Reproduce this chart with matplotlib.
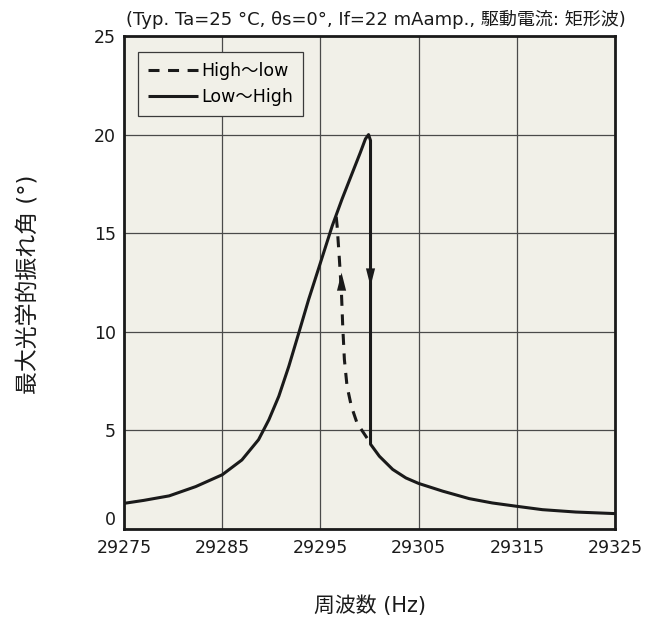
import matplotlib
matplotlib.use('Agg')
import matplotlib.pyplot as plt

plt.rcParams['font.family'] = ['DejaVu Sans', 'Noto Sans CJK JP']

# Low -> High sweep: rising side up to the peak, then the jump down
up_f = [29275, 29277, 29279.6, 29282.3, 29285, 29287.0, 29288.7, 29289.75, 29290.76,
        29291.78, 29292.8, 29293.8, 29295, 29296.2, 29297.2, 29298.2, 29299.07,
        29299.58, 29299.9, 29300.1]
up_a = [1.3, 1.45, 1.68, 2.15, 2.75, 3.5, 4.53, 5.54, 6.73,
        8.25, 9.95, 11.64, 13.5, 15.37, 16.73, 18.0, 19.1,
        19.78, 20.0, 19.7]

# tail after the jump
tail_f = [29300.1, 29300.25, 29301, 29302.36, 29303.7, 29305, 29307.44, 29310.15,
          29312.5, 29315, 29317.6, 29321, 29325]
tail_a = [4.3, 4.2, 3.69, 3.02, 2.59, 2.31, 1.92, 1.54,
          1.32, 1.15, 0.98, 0.86, 0.78]

# High -> low sweep (dashed)
hl_f = [29299.75, 29298.73, 29298.15, 29297.71, 29297.44, 29297.27, 29297.14,
        29296.93, 29296.7, 29296.53]
hl_a = [4.61, 5.37, 6.22, 7.24, 8.59, 10.29, 11.98, 13.68, 15.37, 16.22]

xticks = [29275, 29285, 29295, 29305, 29315, 29325]
yticks = [0, 5, 10, 15, 20, 25]

ink = '#1a1a1a'
bg = '#f1f0e8'

fig = plt.figure(figsize=(6.47, 6.23), dpi=100)
ax = fig.add_axes([0.1917, 0.1509, 0.7589, 0.7913])
ax.set_facecolor(bg)

ax.plot(hl_f, hl_a, color=ink, lw=2.2, ls=(0, (3.6, 2.8)), label='High～low')
ax.plot(up_f + tail_f, up_a + tail_a, color=ink, lw=2.2,
        solid_joinstyle='round', solid_capstyle='butt', label='Low～High')

# direction arrows
arr = dict(arrowstyle='-|>,head_length=1.3,head_width=0.33', color=ink, lw=0,
           mutation_scale=10, shrinkA=0, shrinkB=0)
ax.annotate('', xy=(29297.15, 13.0), xytext=(29297.15, 12.0), arrowprops=arr)
ax.annotate('', xy=(29300.1, 12.3), xytext=(29300.1, 13.3), arrowprops=arr)

ax.set_xlim(29275, 29325)
ax.set_ylim(0, 25)
ax.set_xticks(xticks)
ax.set_yticks(yticks)
ax.tick_params(length=0, labelsize=12.5, colors=ink)
ax.tick_params(axis='x', pad=7)
ax.tick_params(axis='y', pad=6)
ax.get_yticklabels()[0].set_va('bottom')
ax.grid(True, color='#4a4a4a', lw=0.9)
ax.set_axisbelow(True)
for s in ax.spines.values():
    s.set_linewidth(2)
    s.set_color(ink)

fig.text(0.581, 0.969, '(Typ. Ta=25 °C, θs=0°, If=22 mAamp., 駆動電流: 矩形波)',
         ha='center', va='center', fontsize=13, color=ink)
fig.text(0.572, 0.027, '周波数 (Hz)', ha='center', va='center', fontsize=15, color=ink)
fig.text(0.043, 0.544, '最大光学的振れ角 (°)', ha='center', va='center', rotation=90,
         fontsize=16.5, color=ink)

leg = ax.legend(loc='upper left', bbox_to_anchor=(0.028, 0.968), fontsize=12.5,
                frameon=True, fancybox=False, framealpha=1, facecolor=bg,
                edgecolor='#3a3a3a', handlelength=2.88, handletextpad=0.15,
                borderpad=0.6, labelspacing=0.45, borderaxespad=0)
leg.get_frame().set_linewidth(0.9)

fig.savefig('out.png', dpi=100)
